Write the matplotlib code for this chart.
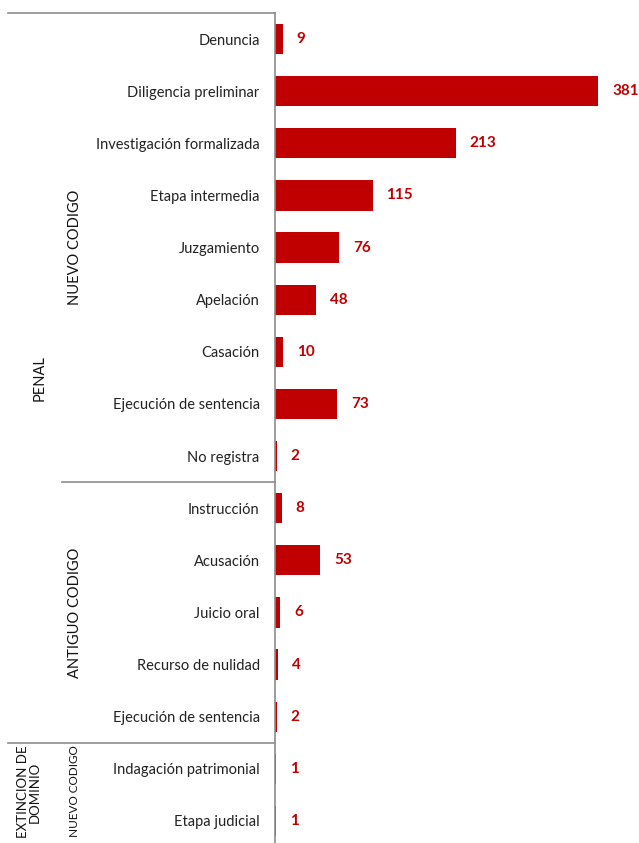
import matplotlib.pyplot as plt
from matplotlib.lines import Line2D
from matplotlib.transforms import blended_transform_factory

plt.rcParams["font.family"] = ["Lato", "DejaVu Sans"]

CATEGORIES = [
    "Denuncia", "Diligencia preliminar", "Investigación formalizada", "Etapa intermedia",
    "Juzgamiento", "Apelación", "Casación", "Ejecución de sentencia", "No registra",
    "Instrucción", "Acusación", "Juicio oral", "Recurso de nulidad", "Ejecución de sentencia",
    "Indagación patrimonial", "Etapa judicial",
]
VALUES = [9, 381, 213, 115, 76, 48, 10, 73, 2, 8, 53, 6, 4, 2, 1, 1]

# group spans: (label, first row, last row)
SUBGROUPS = [("NUEVO CODIGO", 0, 8), ("ANTIGUO CODIGO", 9, 13)]
GROUPS = [("PENAL", 0, 13)]

RED = "#C00000"
GRID = "#8c8c8c"
W, H = 639, 843

fig = plt.figure(figsize=(W / 100, H / 100), dpi=100)
ax = fig.add_axes([275 / W, -4 / H, (W - 275) / W, (H - 9) / H])

y = list(range(len(CATEGORIES)))
bars = ax.barh(y, VALUES, height=0.58, color=RED)
ax.bar_label(bars, labels=[str(v) for v in VALUES], padding=10, color=RED,
             fontsize=11, fontweight="bold")

ax.set_xlim(0, 429)
ax.set_ylim(len(CATEGORIES) - 0.5, -0.5)
ax.set_xticks([])
ax.set_yticks(y)
ax.set_yticklabels(CATEGORIES, fontsize=10.5, color="#222222")
ax.tick_params(axis="y", length=0, pad=11)
for s in ["top", "right", "bottom"]:
    ax.spines[s].set_visible(False)
ax.spines["left"].set_color(GRID)
ax.spines["left"].set_linewidth(1.2)

tr = blended_transform_factory(fig.transFigure, ax.transData)

def hline(x0, yv):
    ax.add_line(Line2D([x0 / W, 275 / W], [yv, yv], transform=tr, color=GRID,
                       lw=1.2, clip_on=False))

hline(8, -0.5)
hline(62, 8.5)
hline(8, 13.5)

for label, a, b in SUBGROUPS:
    ax.text(75 / W, (a + b) / 2, label, transform=tr, rotation=90, ha="center",
            va="center", fontsize=10.5, color="#111111", clip_on=False)
for label, a, b in GROUPS:
    ax.text(40 / W, (a + b) / 2, label, transform=tr, rotation=90, ha="center",
            va="center", fontsize=10.5, color="#111111", clip_on=False)

# extinción de dominio block, anchored just below the separator line
ax.text(29 / W, 13.56, "EXTINCION DE\nDOMINIO", transform=tr, rotation=90,
        ha="center", va="top", fontsize=9.5, color="#111111", clip_on=False,
        multialignment="center", linespacing=1.05)
ax.text(75 / W, 13.55, "NUEVO CODIGO", transform=tr, rotation=90, ha="center",
        va="top", fontsize=8.5, color="#111111", clip_on=False)

fig.savefig("out.png", dpi=100)
